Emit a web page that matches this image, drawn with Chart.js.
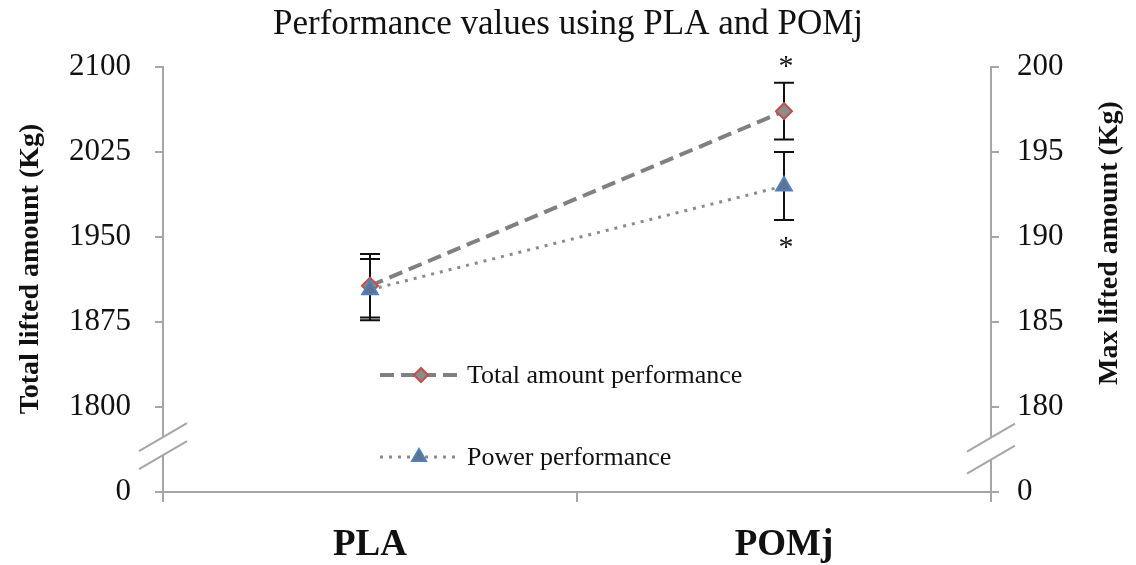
<!DOCTYPE html>
<html>
<head>
<meta charset="utf-8">
<script src="https://cdn.jsdelivr.net/npm/chart.js@4.4.1/dist/chart.umd.min.js"></script>
<style>
  html, body { margin: 0; padding: 0; background: #fff; }
  #wrap { width: 1136px; height: 565px; }
</style>
</head>
<body>
<div id="wrap"><canvas id="perfChart"></canvas></div>
<script>
// data
const categories = ['PLA', 'POMj'];
const totalMean = [1907, 2061];   // Total lifted amount (Kg), left axis
const totalErr = [28, 25];
const powerMean = [186.9, 193.0]; // Max lifted amount (Kg), right axis
const powerErr = [1.8, 2.0];

// axis ticks (lowest tick is the broken "0")
const leftTicks = [1725, 1800, 1875, 1950, 2025, 2100];
const leftTickLabels = ['0', '1800', '1875', '1950', '2025', '2100'];
const rightTicks = [175, 180, 185, 190, 195, 200];
const rightTickLabels = ['0', '180', '185', '190', '195', '200'];

// break drawn between the "0" tick and the first real tick
const leftBreak = [1757.5, 1773.5];
const rightBreak = [176.9, 178.2];

const AXIS = '#a6a6a6';
const SERIF = '"Liberation Serif", "Times New Roman", serif';

const errorBars = {
  id: 'errorBars',
  beforeDatasetsDraw(chart) {
    const ctx = chart.ctx;
    const errs = [totalErr, powerErr];
    ctx.save();
    ctx.strokeStyle = '#111';
    ctx.lineWidth = 2;
    chart.data.datasets.forEach((ds, i) => {
      const yScale = chart.scales[ds.yAxisID];
      const meta = chart.getDatasetMeta(i);
      meta.data.forEach((pt, j) => {
        const top = yScale.getPixelForValue(ds.data[j] + errs[i][j]);
        const bot = yScale.getPixelForValue(ds.data[j] - errs[i][j]);
        ctx.beginPath();
        ctx.moveTo(pt.x, top); ctx.lineTo(pt.x, bot);
        ctx.moveTo(pt.x - 10, top); ctx.lineTo(pt.x + 10, top);
        ctx.moveTo(pt.x - 10, bot); ctx.lineTo(pt.x + 10, bot);
        ctx.stroke();
      });
    });
    ctx.restore();
  }
};

const extras = {
  id: 'extras',
  afterDraw(chart) {
    const ctx = chart.ctx;
    const yl = chart.scales.yLeft, yr = chart.scales.yRight, x = chart.scales.x;
    ctx.save();

    // axis breaks
    const drawBreak = (ax, scale, vals) => {
      const y1 = scale.getPixelForValue(vals[1]);
      const y2 = scale.getPixelForValue(vals[0]);
      ctx.fillStyle = '#fff';
      ctx.fillRect(ax - 3, y1, 6, y2 - y1);
      ctx.strokeStyle = AXIS;
      ctx.lineWidth = 2;
      [y1, y2].forEach(y => {
        ctx.beginPath();
        ctx.moveTo(ax - 24, y + 14);
        ctx.lineTo(ax + 24, y - 14);
        ctx.stroke();
      });
    };
    drawBreak(chart.chartArea.left, yl, leftBreak);
    drawBreak(chart.chartArea.right, yr, rightBreak);

    // axis titles, both read bottom to top
    ctx.fillStyle = '#111';
    ctx.font = 'bold 28px ' + SERIF;
    ctx.textAlign = 'center';
    ctx.textBaseline = 'middle';
    [['Total lifted amount (Kg)', 31, 269], ['Max lifted amount (Kg)', 1110, 243]].forEach(t => {
      ctx.save();
      ctx.translate(t[1], t[2]);
      ctx.rotate(-Math.PI / 2);
      ctx.fillText(t[0], 0, 0);
      ctx.restore();
    });

    // significance asterisks
    ctx.font = '30px ' + SERIF;
    const px = x.getPixelForValue(1);
    ctx.fillText('*', px + 2, yl.getPixelForValue(totalMean[1] + totalErr[1]) - 16);
    ctx.fillText('*', px + 2, yr.getPixelForValue(powerMean[1] - powerErr[1]) + 28);

    // legend inside the plot
    const items = [
      { ds: chart.data.datasets[0], y: 375, x0: 380, x1: 458, mx: 421 },
      { ds: chart.data.datasets[1], y: 457, x0: 380, x1: 455, mx: 419 }
    ];
    items.forEach(it => {
      ctx.strokeStyle = it.ds.borderColor;
      ctx.lineWidth = it.ds.borderWidth;
      ctx.setLineDash(it.ds.borderDash);
      ctx.beginPath();
      ctx.moveTo(it.x0, it.y); ctx.lineTo(it.x1, it.y);
      ctx.stroke();
      ctx.setLineDash([]);
      ctx.fillStyle = it.ds.pointBackgroundColor;
      ctx.strokeStyle = it.ds.pointBorderColor;
      ctx.lineWidth = it.ds.pointBorderWidth;
      Chart.helpers.drawPoint(ctx, {
        pointStyle: it.ds.pointStyle, radius: it.ds.pointRadius - 1, rotation: 0,
        borderWidth: it.ds.pointBorderWidth
      }, it.mx, it.y);
      ctx.fillStyle = '#111';
      ctx.font = '26px ' + SERIF;
      ctx.textAlign = 'left';
      ctx.textBaseline = 'middle';
      ctx.fillText(it.ds.label, 467, it.y + 1);
    });
    ctx.restore();
  }
};

new Chart(document.getElementById('perfChart'), {
  type: 'line',
  data: {
    labels: categories,
    datasets: [
      {
        label: 'Total amount performance',
        data: totalMean,
        yAxisID: 'yLeft',
        order: 1,
        borderColor: '#808080',
        borderWidth: 4,
        borderDash: [14, 7],
        pointStyle: 'rectRot',
        pointRadius: 8,
        pointBackgroundColor: '#8c8c8c',
        pointBorderColor: '#c0504d',
        pointBorderWidth: 2,
        fill: false
      },
      {
        label: 'Power performance',
        data: powerMean,
        yAxisID: 'yRight',
        order: 0,
        borderColor: '#8a8a8a',
        borderWidth: 3,
        borderDash: [3, 6],
        pointStyle: 'triangle',
        pointRadius: 9,
        pointBackgroundColor: '#5d7391',
        pointBorderColor: '#4f81bd',
        pointBorderWidth: 2,
        fill: false
      }
    ]
  },
  options: {
    responsive: true,
    maintainAspectRatio: false,
    animation: false,
    layout: { padding: { left: 0, right: 0, top: 0, bottom: 0 } },
    plugins: {
      legend: { display: false },
      tooltip: { enabled: false },
      title: {
        display: true,
        text: 'Performance values using PLA and POMj',
        color: '#111',
        font: { family: SERIF, size: 35, weight: 'normal' },
        padding: { top: 4, bottom: 21 }
      }
    },
    scales: {
      x: {
        offset: true,
        grid: { offset: true, drawOnChartArea: false, color: AXIS, lineWidth: 2, tickLength: 10 },
        border: { color: AXIS, width: 2 },
        ticks: { color: '#111', padding: 21, font: { family: SERIF, size: 37, weight: 'bold' } },
        afterFit(scale) { scale.height = 73; }
      },
      yLeft: {
        position: 'left',
        min: 1725, max: 2100,
        afterBuildTicks(scale) { scale.ticks = leftTicks.map(v => ({ value: v })); },
        grid: { drawOnChartArea: false, color: AXIS, lineWidth: 2, tickLength: 8 },
        border: { color: AXIS, width: 2 },
        ticks: {
          color: '#111', padding: 24,
          font: { family: SERIF, size: 31 },
          callback: (v, i) => leftTickLabels[i]
        },
        afterFit(scale) { scale.width = 163; }
      },
      yRight: {
        position: 'right',
        min: 175, max: 200,
        afterBuildTicks(scale) { scale.ticks = rightTicks.map(v => ({ value: v })); },
        grid: { drawOnChartArea: false, color: AXIS, lineWidth: 2, tickLength: 8 },
        border: { color: AXIS, width: 2 },
        ticks: {
          color: '#111', padding: 18,
          font: { family: SERIF, size: 31 },
          callback: (v, i) => rightTickLabels[i]
        },
        afterFit(scale) { scale.width = 145; }
      }
    }
  },
  plugins: [errorBars, extras]
});
</script>
</body>
</html>
